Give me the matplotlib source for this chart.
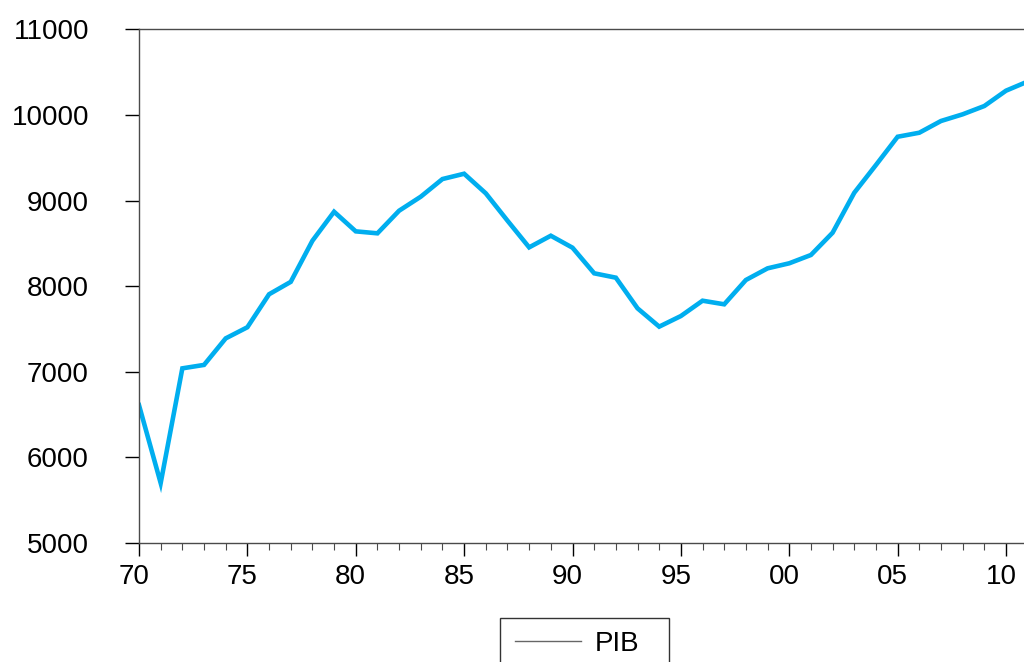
import matplotlib
matplotlib.use("Agg")
import matplotlib.pyplot as plt
from matplotlib.lines import Line2D
from matplotlib.patches import Rectangle
from matplotlib.ticker import FixedLocator, FixedFormatter
from matplotlib.transforms import ScaledTranslation

plt.rcParams["font.family"] = ["Liberation Sans", "DejaVu Sans"]

# annual PIB values
years = list(range(1970, 2012))
pib = [
    6610, 5700, 7040, 7080, 7390, 7520, 7905, 8050, 8530, 8869,
    8640, 8617, 8881, 9045, 9251, 9313, 9084, 8765, 8453, 8589,
    8449, 8150, 8099, 7741, 7527, 7651, 7830, 7788, 8072, 8208,
    8267, 8364, 8624, 9091, 9415, 9745, 9792, 9929, 10007, 10104,
    10283, 10390,
]

major_years = [1970, 1975, 1980, 1985, 1990, 1995, 2000, 2005, 2010]
major_labels = ["70", "75", "80", "85", "90", "95", "00", "05", "10"]
y_ticks = [5000, 6000, 7000, 8000, 9000, 10000, 11000]

W, H = 1024, 662
fig = plt.figure(figsize=(W / 100, H / 100), dpi=100)

# axes box in pixels (right edge runs past the picture, as in the reference)
left_px, top_px, bottom_px = 139, 29.3, 543
px_per_year = 21.675
width_px = (2011 - 1970) * px_per_year
ax = fig.add_axes([left_px / W, 1 - bottom_px / H,
                   width_px / W, (bottom_px - top_px) / H])

ax.plot(years, pib, color="#00AEEF", linewidth=3.3, solid_joinstyle="miter")

ax.set_xlim(1970, 2011)
ax.set_ylim(5000, 11000)

ax.xaxis.set_major_locator(FixedLocator(major_years))
ax.xaxis.set_major_formatter(FixedFormatter(major_labels))
ax.xaxis.set_minor_locator(FixedLocator(years))
ax.set_yticks(y_ticks)
ax.set_yticklabels([str(v) for v in y_ticks])

spine_col = "#4a4a4a"
for side in ["left", "top", "bottom"]:
    ax.spines[side].set_color(spine_col)
    ax.spines[side].set_linewidth(1.0)
ax.spines["right"].set_visible(False)

ax.tick_params(axis="y", direction="out", length=10, width=1.0,
               pad=26, labelsize=20, colors="black")
ax.tick_params(axis="x", which="major", direction="out", length=9, width=1.0,
               pad=6, labelsize=20, colors="black")
ax.tick_params(axis="x", which="minor", direction="out", length=5, width=0.8,
               colors=spine_col)
ax.tick_params(axis="y", which="minor", left=False)

# the year labels sit a little left of their ticks in the reference
shift = ScaledTranslation(-5 / 100, 0, fig.dpi_scale_trans)
for lab in ax.get_xticklabels():
    lab.set_transform(lab.get_transform() + shift)

# legend: frame drawn as its own box, cut by the bottom edge like the reference
frame = Rectangle((500 / W, -20 / H), 169 / W, (662 + 20 - 617.7) / H,
                  transform=fig.transFigure, facecolor="white",
                  edgecolor="#333333", linewidth=1.0)
fig.patches.append(frame)

handle = Line2D([], [], color="#666666", linewidth=1.0)
leg = fig.legend([handle], ["PIB"], loc="upper left",
                 bbox_to_anchor=(515 / W, 1 - 631 / H),
                 fontsize=20, frameon=False,
                 handlelength=2.36, handletextpad=0.5, borderpad=0,
                 borderaxespad=0)

fig.savefig("out.png", dpi=100)
